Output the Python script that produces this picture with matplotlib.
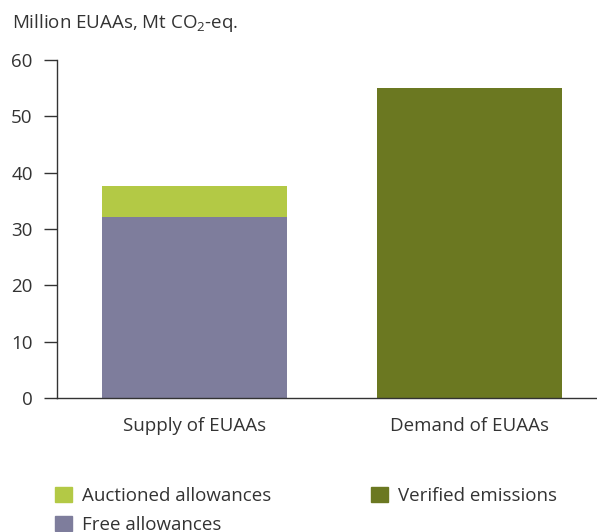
import matplotlib.pyplot as plt
from matplotlib.patches import Patch

plt.rcParams['font.family'] = ['Open Sans', 'DejaVu Sans']
plt.rcParams['mathtext.fontset'] = 'custom'
plt.rcParams['mathtext.rm'] = 'Open Sans'
plt.rcParams['mathtext.it'] = 'Open Sans'
plt.rcParams['mathtext.default'] = 'rm'

# --- data ---
categories = ['Supply of EUAAs', 'Demand of EUAAs']
free_allowances = [32.1, 0]
auctioned_allowances = [5.5, 0]
verified_emissions = [0, 55.0]

c_auct = '#b3c945'
c_free = '#7e7d9c'
c_verif = '#6b7821'
text_c = '#333333'
fs = 13.5

fig = plt.figure(figsize=(5.97, 5.32), dpi=100)
ax = fig.add_axes([0.0955, 0.2519, 0.9045, 0.6353])

x = [0, 1]
w = 0.673
ax.bar(x[0], free_allowances[0], width=w, color=c_free)
ax.bar(x[0], auctioned_allowances[0], width=w, bottom=free_allowances[0], color=c_auct)
ax.bar(x[1], verified_emissions[1], width=w, color=c_verif)

ax.set_xlim(-0.5, 1.464)
ax.set_ylim(0, 60)
ax.set_yticks(range(0, 61, 10))
ax.set_xticks(x)
ax.set_xticklabels(categories)

for s in ['top', 'right']:
    ax.spines[s].set_visible(False)
for s in ['left', 'bottom']:
    ax.spines[s].set_color('#333333')
    ax.spines[s].set_linewidth(1.0)
ax.tick_params(axis='y', length=9.5, width=1.0, color='#333333', labelsize=fs, labelcolor=text_c, pad=8)
ax.tick_params(axis='x', length=0, labelsize=fs, labelcolor=text_c, pad=13.5)

fig.text(0.02, 0.956, 'Million EUAAs, Mt CO$_2$-eq.', fontsize=fs, color=text_c, va='center')

handles = [Patch(color=c_auct, label='Auctioned allowances'),
           Patch(color=c_free, label='Free allowances'),
           Patch(color=c_verif, label='Verified emissions')]
fig.legend(handles=handles, ncol=2, loc='upper left', bbox_to_anchor=(0.092, 0.085),
           frameon=False, fontsize=fs, labelcolor=text_c, handlelength=0.9, handleheight=0.9,
           handletextpad=0.55, columnspacing=5.3, labelspacing=0.58, borderaxespad=0, borderpad=0)

fig.savefig('out.png', dpi=100)
